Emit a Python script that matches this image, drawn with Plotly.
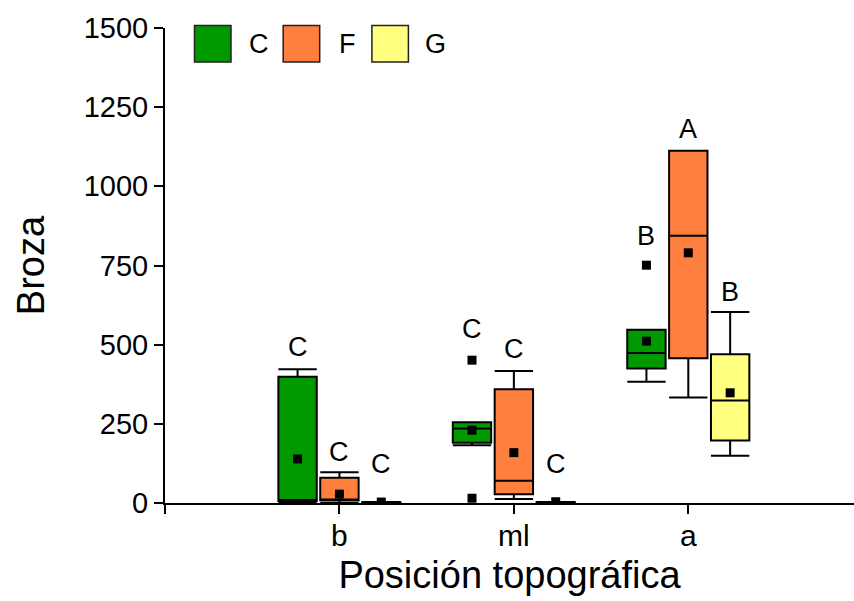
import plotly.graph_objects as go

# Topographic positions (x categories) and treatments (box series)
positions = ["b", "ml", "a"]
treatments = ["C", "F", "G"]
colors = ["#009900", "#FF7F3F", "#FFFF80"]

# Box statistics per treatment, one value per topographic position
lower = {"C": [0, 182, 383], "F": [0, 13, 333], "G": [0, 0, 149]}
q1 = {"C": [6, 190, 425], "F": [8, 28, 457], "G": [0, 0, 197]}
median = {"C": [8, 235, 474], "F": [10, 70, 844], "G": [0, 0, 324]}
q3 = {"C": [399, 255, 547], "F": [80, 359, 1112], "G": [2, 2, 470]}
upper = {"C": [422, 255, 547], "F": [97, 417, 1112], "G": [3, 3, 603]}
means = {"C": [139, 230, 511], "F": [28, 159, 790], "G": [3, 4, 348]}
outliers = {
    "C": [[], [451, 15], [751]],
    "F": [[], [], []],
    "G": [[], [], []],
}

# Significance letters above each box
letters = {"C": ["C", "C", "B"], "F": ["C", "C", "A"], "G": ["C", "C", "B"]}
letter_shift = {"C": [5, 14, 12], "F": [3, 5, 5], "G": [21, 21, 3]}

y_ticks = [0, 250, 500, 750, 1000, 1250, 1500]

# Geometry of the grouped boxes (x in category units)
offsets = [-0.24, 0.0, 0.24]
box_width = 0.22
cat_x = [1, 2, 3]

FONT = "Liberation Sans, Arial"

fig = go.Figure()

for k, t in enumerate(treatments):
    xs = [c + offsets[k] for c in cat_x]
    fig.add_trace(go.Box(
        x=xs, q1=q1[t], median=median[t], q3=q3[t],
        lowerfence=lower[t], upperfence=upper[t],
        width=box_width, whiskerwidth=1,
        fillcolor=colors[k], line=dict(color="black", width=2),
        boxpoints=False, name=t, showlegend=False, hoverinfo="skip",
    ))
    # mean markers
    fig.add_trace(go.Scatter(
        x=xs, y=means[t], mode="markers",
        marker=dict(symbol="square", size=9, color="black"),
        showlegend=False, hoverinfo="skip",
    ))
    # outlier markers
    ox, oy = [], []
    for xi, vals in zip(xs, outliers[t]):
        for v in vals:
            ox.append(xi)
            oy.append(v)
    if ox:
        fig.add_trace(go.Scatter(
            x=ox, y=oy, mode="markers",
            marker=dict(symbol="square", size=9, color="black"),
            showlegend=False, hoverinfo="skip",
        ))
    # letters
    for j, xi in enumerate(xs):
        top = max([upper[t][j], means[t][j]] + outliers[t][j])
        fig.add_annotation(
            x=xi, y=top, text=letters[t][j], showarrow=False,
            yanchor="bottom", yshift=letter_shift[t][j],
            font=dict(family=FONT, size=27, color="black"),
        )

# Category labels under the x axis
for c, lab in zip(cat_x, positions):
    fig.add_annotation(
        x=c, xref="x", y=0, yref="paper", text=lab, showarrow=False,
        yanchor="top", yshift=-14,
        font=dict(family=FONT, size=30, color="black"),
    )

# Legend drawn as filled squares with labels
plot_l, plot_r, plot_t, plot_b = 165, 854, 28, 503
pw, ph = plot_r - plot_l, plot_b - plot_t
leg_x0, leg_step, sq = 194.5, 88.7, 36.5
leg_top = 25.5
for k, t in enumerate(treatments):
    x0 = leg_x0 + k * leg_step
    fig.add_shape(
        type="rect", xref="paper", yref="paper",
        x0=(x0 - plot_l) / pw, x1=(x0 + sq - plot_l) / pw,
        y0=(plot_b - leg_top - sq) / ph, y1=(plot_b - leg_top) / ph,
        fillcolor=colors[k], line=dict(color="#222222", width=1.5),
    )
    fig.add_annotation(
        xref="paper", yref="paper",
        x=(x0 + sq + 27.5 - plot_l) / pw, y=(plot_b - leg_top - sq / 2) / ph,
        text=t, showarrow=False, xanchor="center", yanchor="middle",
        font=dict(family=FONT, size=27, color="black"),
    )

tick_font = dict(family=FONT, size=29, color="black")
title_font = dict(family=FONT, size=38, color="black")

fig.update_layout(
    width=854, height=601,
    margin=dict(l=plot_l, r=854 - plot_r, t=plot_t, b=601 - plot_b),
    paper_bgcolor="white", plot_bgcolor="white",
    showlegend=False,
    xaxis=dict(
        range=[0, 3.95], tickvals=[0] + cat_x, showticklabels=False,
        showline=True, linecolor="black", linewidth=2,
        ticks="outside", ticklen=9, tickwidth=2, tickcolor="black",
        showgrid=False, zeroline=False,
        title=dict(text="Posición topográfica", font=title_font, standoff=48),
    ),
    yaxis=dict(
        range=[0, 1500], tickvals=y_ticks,
        showline=True, linecolor="black", linewidth=2,
        ticks="outside", ticklen=9, tickwidth=2, tickcolor="black",
        showgrid=False, zeroline=False, tickfont=tick_font,
        title=dict(text="Broza", font=title_font, standoff=27),
    ),
)

fig.write_html("out.html")
